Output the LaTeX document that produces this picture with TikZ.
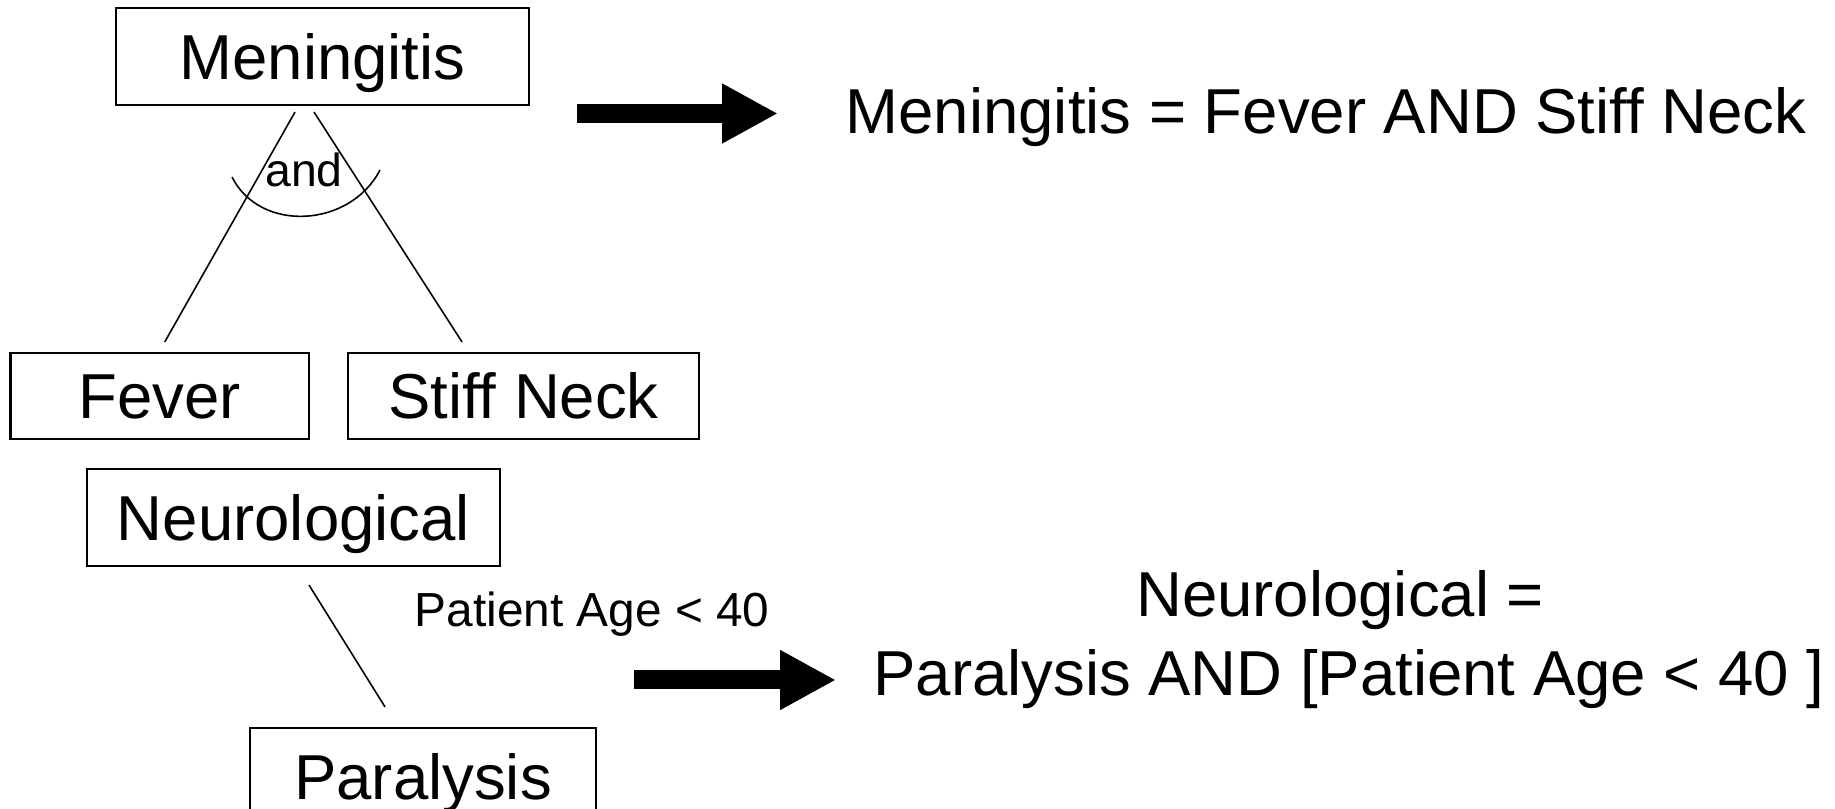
\documentclass[tikz,border=0pt]{standalone}
\usepackage{fontspec}
\setmainfont{Liberation Sans}
\usetikzlibrary{arrows.meta}
\newcommand{\bigtext}{\fontsize{18.07pt}{22.5pt}\selectfont}
\newcommand{\smalltext}{\fontsize{13.2pt}{16pt}\selectfont}

\begin{document}
\begin{tikzpicture}[
  box/.style={draw,line width=0.6pt,inner sep=0pt,font=\bigtext,text height=12.9pt,text depth=0pt},
  edge/.style={line width=0.45pt},
  bigarrow/.style={line width=0.19cm,-{Triangle[length=0.56cm,width=0.56cm]}}]
  \useasboundingbox (0,0) rectangle (18.35,-8.09);
  \clip (0,0) rectangle (18.35,-8.09);
  % and-tree
  \node[box,minimum width=4.13cm,minimum height=0.97cm] (men) at (3.225,-0.565) {Meningitis};
  \node[box,minimum width=2.985cm,minimum height=0.86cm] (fev) at (1.5975,-3.96) {Fever};
  \node[box,minimum width=3.51cm,minimum height=0.86cm] (neck) at (5.235,-3.96) {Stiff Neck};
  \draw[edge] ([xshift=-0.275cm,yshift=-0.06cm]men.south) -- ([xshift=0.05cm,yshift=0.1cm]fev.north);
  \draw[edge] ([xshift=-0.085cm,yshift=-0.06cm]men.south) -- ([xshift=-0.615cm,yshift=0.1cm]neck.north);
  \draw[edge] (2.32,-1.77) .. controls (2.6,-2.33) and (3.5,-2.28) .. (3.8,-1.70);
  \node[font=\smalltext,inner sep=0pt,anchor=base] (andlbl) at (3.04,-1.87) {and};
  % conditional tree
  \node[box,minimum width=4.13cm,minimum height=0.97cm] (neuro) at (2.935,-5.175) {Neurological};
  \node[box,minimum width=3.46cm,minimum height=0.97cm] (para) at (4.23,-7.765) {Paralysis};
  \draw[edge] ([xshift=0.155cm,yshift=-0.18cm]neuro.south) -- ([xshift=-0.38cm,yshift=0.2cm]para.north);
  \node[font=\fontsize{13.6pt}{16pt}\selectfont,inner sep=0pt,anchor=base west] (agelbl) at (4.14,-6.27) {Patient Age < 40};
  % rules
  \node[font=\bigtext,inner sep=0pt,anchor=base west] (menrule) at (8.45,-1.34) {Meningitis = Fever AND Stiff Neck};
  \node[font=\bigtext,inner sep=0pt,align=center] (neurorule) at (13.49,-6.40)
    {Neurological =\hspace*{0.278em}\\Paralysis AND [Patient Age < 40 ]};
  \coordinate (a1s) at (5.77,-1.135);
  \coordinate (a1e) at (7.78,-1.135);
  \coordinate (a2s) at (6.34,-6.80);
  \coordinate (a2e) at (8.36,-6.80);
  \draw[bigarrow] (a1s) -- (a1e);
  \draw[bigarrow] (a2s) -- (a2e);
\end{tikzpicture}
\end{document}
